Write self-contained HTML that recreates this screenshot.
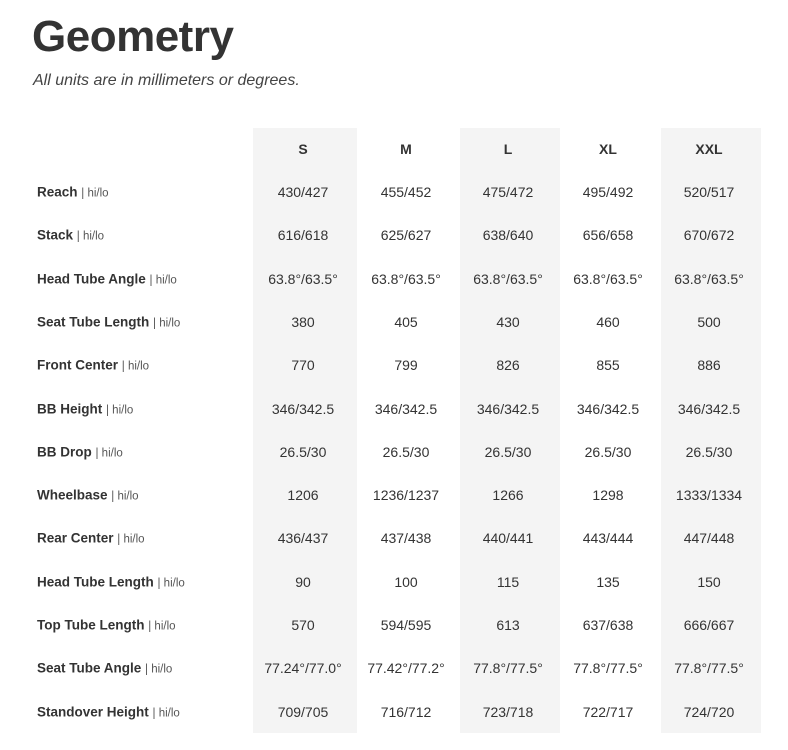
<!DOCTYPE html>
<html><head><meta charset="utf-8"><style>
body{margin:0;width:788px;height:750px;background:#fff;font-family:"Liberation Sans",sans-serif;color:#333;position:relative;overflow:hidden}
h1{position:absolute;left:32px;top:12px;margin:0;font-size:44px;font-weight:bold;color:#333;letter-spacing:-0.5px}
.sub{position:absolute;left:33px;top:72px;font-size:16px;font-style:italic;color:#444}
.shade{position:absolute;top:128px;height:605px;background:#f4f4f4}
.c{position:absolute;font-size:14px;color:#333;text-align:center;width:104px;transform:translateY(-50%)}
.h{font-weight:bold}
.l{position:absolute;left:37px;font-size:13.5px;font-weight:bold;color:#333;transform:translateY(-50%);white-space:nowrap}
.l span{font-weight:normal;font-size:11.5px;color:#555}
</style></head><body>
<h1>Geometry</h1>
<div class="sub">All units are in millimeters or degrees.</div>
<div class="shade" style="left:253px;width:104px"></div>
<div class="shade" style="left:460px;width:100px"></div>
<div class="shade" style="left:661px;width:100px"></div>
<div id="t"></div>
<script>
var cols=[303,406,508,608,709];
var heads=["S","M","L","XL","XXL"];
var rows=[
["Reach","430/427","455/452","475/472","495/492","520/517"],
["Stack","616/618","625/627","638/640","656/658","670/672"],
["Head Tube Angle","63.8°/63.5°","63.8°/63.5°","63.8°/63.5°","63.8°/63.5°","63.8°/63.5°"],
["Seat Tube Length","380","405","430","460","500"],
["Front Center","770","799","826","855","886"],
["BB Height","346/342.5","346/342.5","346/342.5","346/342.5","346/342.5"],
["BB Drop","26.5/30","26.5/30","26.5/30","26.5/30","26.5/30"],
["Wheelbase","1206","1236/1237","1266","1298","1333/1334"],
["Rear Center","436/437","437/438","440/441","443/444","447/448"],
["Head Tube Length","90","100","115","135","150"],
["Top Tube Length","570","594/595","613","637/638","666/667"],
["Seat Tube Angle","77.24°/77.0°","77.42°/77.2°","77.8°/77.5°","77.8°/77.5°","77.8°/77.5°"],
["Standover Height","709/705","716/712","723/718","722/717","724/720"]];
var h="";
for(var i=0;i<5;i++)h+='<div class="c h" style="left:'+(cols[i]-52)+'px;top:149px">'+heads[i]+'</div>';
for(var r=0;r<rows.length;r++){var y=192+r*43.3;
h+='<div class="l" style="top:'+y+'px">'+rows[r][0]+' <span>| hi/lo</span></div>';
for(var i=0;i<5;i++)h+='<div class="c" style="left:'+(cols[i]-52)+'px;top:'+y+'px">'+rows[r][i+1]+'</div>';}
document.getElementById("t").innerHTML=h;
</script>
</body></html>
